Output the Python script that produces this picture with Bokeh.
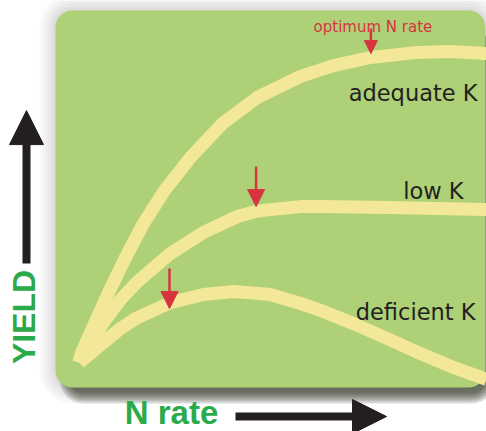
from bokeh.plotting import figure
from bokeh.models import Range1d, BoxAnnotation, Label, Arrow, NormalHead
from bokeh.embed import file_html
from bokeh.resources import INLINE

# ---- data (relative units) ----
adequate_n = [-0.5, 0.5, 3.5, 7.25, 11.25, 15.75, 21.0, 27.5, 35.5, 44.25, 55.0, 63.25, 72.5, 84.25, 92.5, 101.5]
adequate_y = [0.3, 4.3, 13.3, 24.3, 35.3, 46.7, 57.7, 68.7, 80.0, 88.7, 95.7, 99.3, 102.0, 103.7, 104.0, 103.3]

low_n = [-0.25, 5.75, 10.0, 14.25, 22.5, 30.75, 39.25, 43.75, 47.5, 55.0, 60.0, 76.75, 101.5]
low_y = [0.3, 13.7, 21.3, 27.3, 36.7, 43.7, 49.0, 50.7, 51.3, 52.3, 52.3, 52.0, 51.3]

deficient_n = [-0.25, 5.75, 10.0, 14.25, 22.5, 30.75, 38.25, 47.5, 55.0, 60.0, 68.25, 76.75, 85.0, 93.25, 101.5]
deficient_y = [0.3, 7.0, 11.7, 15.3, 20.3, 23.0, 24.0, 23.0, 20.0, 17.7, 13.3, 8.3, 3.3, -1.3, -5.3]

curve_labels = ["adequate K", "low K", "deficient K"]
opt_n = [72.6, 43.9, 22.25]      # optimum N rate for each curve
opt_y = [103.3, 52.3, 18.3]      # yield at the optimum

# ---- styles ----
GREEN = "#AED076"
YELLOW = "#F3E898"
RED = "#D7343F"
DARK = "#231F20"
TXT_GREEN = "#2BAA4A"
PXX = 0.25        # data units per pixel, x
PXY = 1.0 / 3.0   # data units per pixel, y

p = figure(width=486, height=431, x_range=Range1d(-20, 101.5), y_range=Range1d(-22.6667, 121.0),
           output_backend="svg", toolbar_location=None, min_border=0,
           x_axis_location=None, y_axis_location=None)
p.grid.visible = False
p.outline_line_color = None
p.background_fill_color = "white"
p.border_fill_color = "white"

# panel with soft halo and bottom drop shadow
pl, pr, pt, pb = -6.25, 101.25, 117.67, -8.0
for pad in [16, 13, 10, 7, 4, 2]:
    p.add_layout(BoxAnnotation(left=pl - pad * PXX, right=pr + pad * PXX,
                               top=pt + pad * PXY, bottom=pb - pad * PXY,
                               fill_color="black", fill_alpha=0.025, line_alpha=0,
                               border_radius=17 + pad, level="underlay"))
for pad in [10, 8, 6, 4, 2, 0]:
    p.add_layout(BoxAnnotation(left=pl + (14 - pad) * PXX, right=pr + pad * PXX,
                               top=pt - 20 * PXY, bottom=pb - 6 * PXY - pad * PXY,
                               fill_color="#1c2410", fill_alpha=0.14, line_alpha=0,
                               border_radius=14 + pad, level="underlay"))
p.add_layout(BoxAnnotation(left=pl, right=pr, top=pt, bottom=pb, fill_color=GREEN, fill_alpha=1,
                           line_alpha=0, border_radius=17, level="underlay"))

for xs, ys in [(adequate_n, adequate_y), (low_n, low_y), (deficient_n, deficient_y)]:
    p.line(xs, ys, line_width=13, line_color=YELLOW, line_cap="butt", line_join="round")

# red arrows to the optimum N rate
arrow_len_px = [25, 40, 40]
head_size = [13, 17, 17]
for n, yv, L, hs in zip(opt_n, opt_y, arrow_len_px, head_size):
    p.add_layout(Arrow(end=NormalHead(size=hs, fill_color=RED, line_color=RED, line_width=1),
                       x_start=n, y_start=yv + L * PXY, x_end=n, y_end=yv,
                       line_color=RED, line_width=2.5))

p.add_layout(Label(x=73.1, y=112.3, text="optimum N rate", text_align="center",
                   text_baseline="alphabetic", text_font="DejaVu Sans", text_font_size="15px",
                   text_color=RED))

label_pos = [(99.25, 90.1), (95.75, 57.4), (98.75, 17.1)]
for txt, (lx, ly) in zip(curve_labels, label_pos):
    p.add_layout(Label(x=lx, y=ly, text=txt, text_align="right", text_baseline="alphabetic",
                       text_font="DejaVu Sans", text_font_size="22.5px", text_color=DARK))

# axis arrows and titles
p.add_layout(Arrow(end=NormalHead(size=34, fill_color=DARK, line_color=DARK, line_width=1),
                   x_start=-13.5, y_start=33.3, x_end=-13.5, y_end=84.3,
                   line_color=DARK, line_width=8))
p.add_layout(Arrow(end=NormalHead(size=34, fill_color=DARK, line_color=DARK, line_width=1),
                   x_start=38.75, y_start=-17.67, x_end=76.5, y_end=-17.67,
                   line_color=DARK, line_width=8))

p.add_layout(Label(x=-14.1, y=15.5, text="YIELD", angle=1.5707963, text_align="center",
                   text_baseline="middle", text_font="Liberation Sans", text_font_style="bold",
                   text_font_size="32px", text_color=TXT_GREEN))
p.add_layout(Label(x=22.75, y=-16.5, text="N rate", text_align="center",
                   text_baseline="middle", text_font="Liberation Sans", text_font_style="bold",
                   text_font_size="33px", text_color=TXT_GREEN))

open("out.html", "w").write(file_html(p, INLINE))
